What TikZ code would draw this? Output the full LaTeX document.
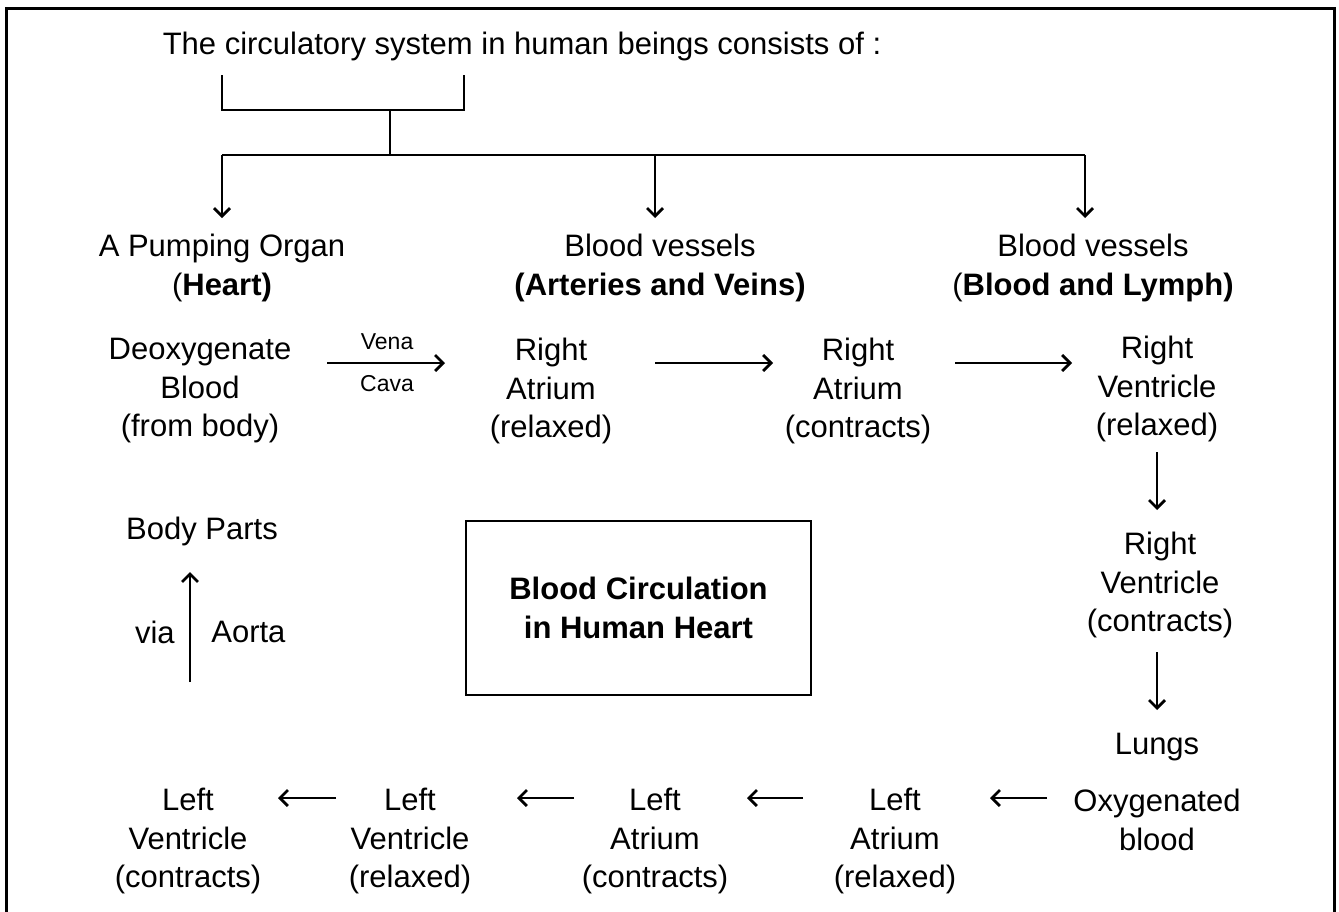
\documentclass[tikz,border=0pt]{standalone}
\usepackage{fontspec}
\setmainfont{Liberation Sans}
\usetikzlibrary{arrows.meta}
\begin{document}
\begin{tikzpicture}[x=1pt,y=-1pt,
  txt/.style={font=\fontsize{31}{38.5}\selectfont, align=center, inner sep=0pt},
  small/.style={font=\fontsize{23}{27}\selectfont, inner sep=0pt},
  ln/.style={line width=2.7pt},
  arr/.style={line width=2.7pt, -{Straight Barb[length=8pt,width=16pt]}},
  titlebox/.style={draw, line width=2.8pt, minimum width=345pt, minimum height=174pt,
    align=center, font=\fontsize{31}{38.5}\selectfont\bfseries, inner sep=0pt}
]
\useasboundingbox (0,0) rectangle (1339,911);
\fill[white] (0,0) rectangle (1339,911);
\draw[line width=3pt] (6,915) -- (6,8) -- (1334,8) -- (1334,915);

% title and bracket
\node[txt] (title) at (522,46) {The circulatory system in human beings consists of :};
\coordinate (b1) at (222,75);
\coordinate (b2) at (464,75);
\coordinate (bm) at (390,110);
\coordinate (j0) at (390,155);
\coordinate (j1) at (222,155);
\coordinate (j2) at (655,155);
\coordinate (j3) at (1085,155);
\draw[ln] (b1) -- (b1 |- bm) -- (b2 |- bm) -- (b2);
\draw[ln] (bm) -- (j0);
\draw[ln] (j1) -- (j3);

% headings
\node[txt] (pump) at (222,268) {A Pumping Organ\\(\textbf{Heart)}};
\node[txt] (vessA) at (660,268) {Blood vessels\\\textbf{(Arteries and Veins)}};
\node[txt] (vessB) at (1093,268) {Blood vessels\\(\textbf{Blood and Lymph)}};
\draw[arr, shorten >=50pt] (j1) -- (j1 |- pump.center);
\draw[arr, shorten >=50pt] (j2) -- (j2 |- vessA.center);
\draw[arr, shorten >=50pt] (j3) -- (j3 |- vessB.center);

% flow nodes
\node[txt] (deoxy) at (200,391) {Deoxygenate\\Blood\\(from body)};
\node[txt] (ra) at (551,391) {Right\\Atrium\\(relaxed)};
\node[txt] (rac) at (858,391) {Right\\Atrium\\(contracts)};
\node[txt] (rvr) at (1157,389) {Right\\Ventricle\\(relaxed)};
\node[txt] (rvc) at (1160,585) {Right\\Ventricle\\(contracts)};
\node[txt] (lungs) at (1157,747) {Lungs};
\node[txt] (oxy) at (1157,820) {Oxygenated\\blood};
\node[txt] (la) at (895,841) {Left\\Atrium\\(relaxed)};
\node[txt] (lac) at (655,841) {Left\\Atrium\\(contracts)};
\node[txt] (lvr) at (410,841) {Left\\Ventricle\\(relaxed)};
\node[txt] (lvc) at (188,841) {Left\\Ventricle\\(contracts)};
\node[txt] (body) at (202,531) {Body Parts};
\node[titlebox] (box) at (638.5,608) {Blood Circulation\\in Human Heart};

% top row arrows
\draw[arr, shorten <=127pt, shorten >=106pt] ([yshift=28pt]deoxy.center) -- ([yshift=28pt]ra.center)
  node[small, pos=0.533, above=12pt] {Vena}
  node[small, pos=0.533, below=11pt] {Cava};
\draw[arr, shorten <=104pt, shorten >=85pt] ([yshift=28pt]ra.center) -- ([yshift=28pt]rac.center);
\draw[arr, shorten <=97pt, shorten >=85pt] ([yshift=28pt]rac.center) -- ([yshift=28pt]rac.center -| rvr.center);

% right column arrows
\draw[arr, shorten <=63pt, shorten >=75pt] (rvr.center) -- (rvr.center |- rvc.center);
\draw[arr, shorten <=67pt, shorten >=37pt] (rvr.center |- rvc.center) -- (rvr.center |- lungs.center);

% bottom row arrows
\draw[arr, shorten <=110pt, shorten >=95pt] ([yshift=22pt]oxy.center) -- ([yshift=22pt]oxy.center -| la.center);
\draw[arr, shorten <=92pt, shorten >=92pt] ([yshift=43pt]la.center) -- ([yshift=43pt]lac.center);
\draw[arr, shorten <=81pt, shorten >=107pt] ([yshift=43pt]lac.center) -- ([yshift=43pt]lvr.center);
\draw[arr, shorten <=74pt, shorten >=90pt] ([yshift=43pt]lvr.center) -- ([yshift=43pt]lvc.center);

% aorta
\coordinate (ao) at (190,682);
\draw[arr, shorten >=41pt] (ao) -- (ao |- body.center)
  node[txt, pos=0.33, left=14pt] {via}
  node[txt, pos=0.33, right=20pt] {Aorta};
\end{tikzpicture}
\end{document}
